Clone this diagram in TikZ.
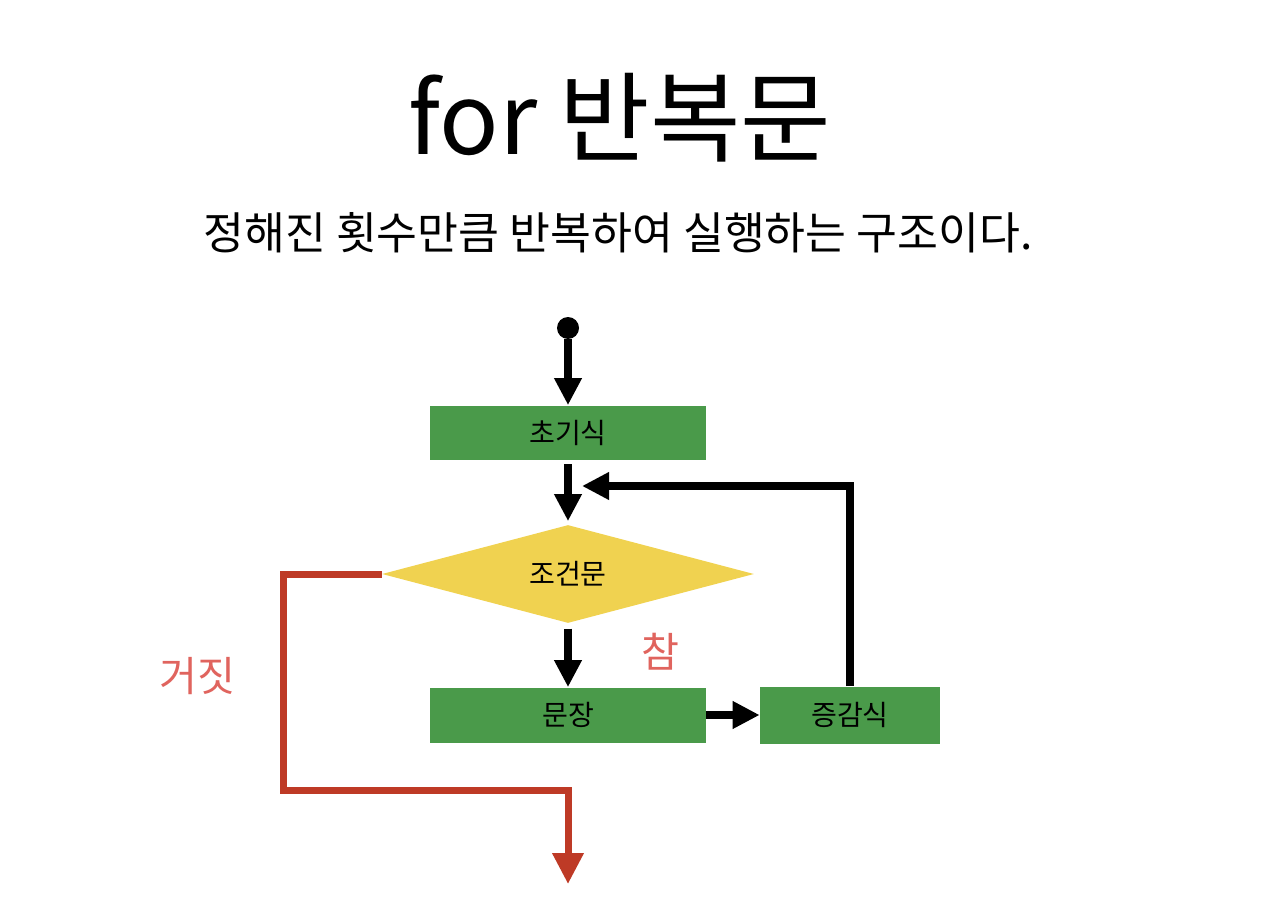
\documentclass[tikz,border=0pt]{standalone}
\usepackage{fontspec}
\setmainfont{Noto Sans CJK KR}
\usetikzlibrary{arrows.meta, positioning, shapes.geometric}

\definecolor{boxgreen}{HTML}{4A9A4A}
\definecolor{condyellow}{HTML}{F0D250}
\definecolor{falsered}{HTML}{BE3A26}
\definecolor{labelred}{HTML}{E0645E}

\begin{document}
\begin{tikzpicture}[x=0.02cm, y=-0.02cm,
        stepbox/.style={rectangle, fill=boxgreen, minimum width=5.52cm,
                  minimum height=1.1cm, inner sep=0pt,
                  font=\fontsize{16}{18}\selectfont},
        condbox/.style={diamond, fill=condyellow, shape aspect=3.8,
                  minimum width=7.44cm, minimum height=1.96cm, inner sep=0pt,
                  font=\fontsize{16}{18}\selectfont},
        arr/.style={-{Triangle[length=0.54cm,width=0.52cm]}, line width=0.16cm, black},
        falsearr/.style={-{Triangle[length=0.62cm,width=0.6cm]}, line width=0.14cm, falsered},
        lbl/.style={text=labelred, font=\fontsize{23.5}{27}\selectfont}]
      \useasboundingbox (0,0) rectangle (1280,918);
      % title
      \node (title) at (620,118) {\fontsize{56}{64}\selectfont for 반복문};
      \node (sub) at (618,233) {\fontsize{25.3}{30}\selectfont 정해진 횟수만큼 반복하여 실행하는 구조이다.};
      % flow
      \node[circle, fill=black, inner sep=0pt, minimum size=0.44cm] (start) at (568,328) {};
      \node[stepbox] (init) at (568,433) {초기식};
      \node[condbox] (cond) at (568,574) {조건문};
      \node[stepbox] (body) at (568,715) {문장};
      \node[stepbox, minimum width=3.6cm, minimum height=1.14cm] (inc) at (850,715) {증감식};
      \coordinate (loopend) at (582,486);
      \coordinate (exit) at (568,884);
      \draw[arr] (start) -- (init.north);
      \draw[arr, shorten <=2pt, shorten >=2pt] (init.south) -- (cond.north);
      \draw[arr, shorten <=3pt] (cond.south) -- (body.north);
      \draw[arr] (body.east) -- (inc.west);
      \draw[arr] (inc.north) |- (loopend);
      \draw[falsearr] (cond.west) -| (283,790) -| (exit);
      % labels
      \node[lbl] (true) at (660,652) {참};
      \node[lbl] (false) at (197,676) {거짓};
    \end{tikzpicture}
\end{document}
